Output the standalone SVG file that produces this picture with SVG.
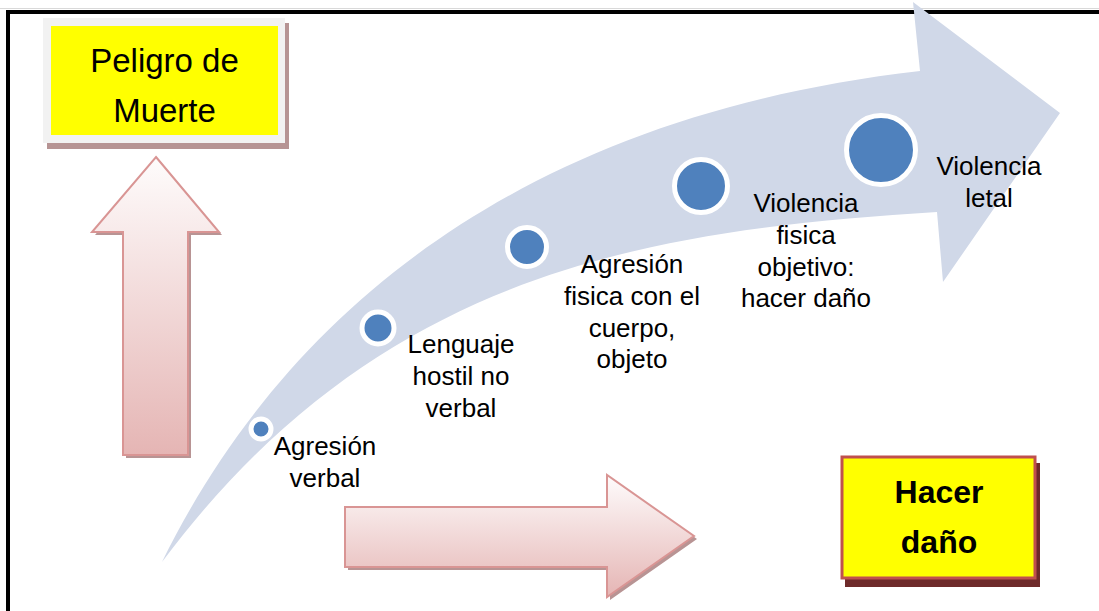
<svg xmlns="http://www.w3.org/2000/svg" width="1099" height="611" viewBox="0 0 1099 611">
  <defs>
    <linearGradient id="pinkV" x1="0" y1="0" x2="0" y2="1">
      <stop offset="0" stop-color="#fefcfc"/>
      <stop offset="1" stop-color="#e5b5b4"/>
    </linearGradient>
    <style>
      .lbl { font-family: "Liberation Sans", Arial, sans-serif; font-size: 26px; fill: #000; text-anchor: middle; }
      .dot { fill: #4f81bd; stroke: #ffffff; }
      .arr { fill: url(#pinkV); stroke: #d99594; stroke-width: 2; stroke-linejoin: miter; }
      .shd { fill: #b89494; }
    </style>
  </defs>
  <rect x="0" y="0" width="1099" height="611" fill="#ffffff"/>
  <g id="frame">
    <rect x="0" y="8" width="1099" height="1" fill="#d9d9d9"/>
    <rect x="6" y="10" width="1093" height="4" fill="#000000"/>
    <rect x="6" y="10" width="4" height="601" fill="#000000"/>
  </g>
  <g id="curved-arrow">
    <path d="M162,562 C280,322 510,118 920,71 L913,2 L1060,113 L943,282 L937,212 C650,230 380,270 162,562 Z" fill="#d0d8e8"/>
  </g>
  <g id="connectors">
    <g id="arrow-up">
      <polygon class="shd" points="159,160 222,235 191,235 191,458 126,458 126,235 95,235"/>
      <polygon class="arr" points="156,157 219,232 188,232 188,455 123,455 123,232 92,232"/>
    </g>
    <g id="arrow-right">
      <polygon class="shd" points="348,510 610,510 610,478 697,539 610,600 610,570 348,570"/>
      <polygon class="arr" points="345,507 607,507 607,475 694,536 607,597 607,567 345,567"/>
    </g>
  </g>
  <g id="node-peligro">
    <rect x="47" y="23" width="242" height="126" fill="#b69494"/>
    <rect x="43" y="18" width="242" height="125" fill="#f2f2f2"/>
    <rect x="51" y="26" width="227" height="109" fill="#ffff00"/>
    <text class="lbl" x="164.5" y="72" style="font-size:33px">Peligro de</text>
    <text class="lbl" x="164.5" y="122" style="font-size:33px">Muerte</text>
  </g>
  <g id="node-hacer">
    <rect x="845" y="463" width="195" height="124" fill="#6e2a2a"/>
    <rect x="842" y="457" width="193" height="121" fill="#ffff00" stroke="#c0504d" stroke-width="3"/>
    <text class="lbl" x="939" y="503" style="font-size:32px;font-weight:bold">Hacer</text>
    <text class="lbl" x="939" y="553" style="font-size:32px;font-weight:bold">daño</text>
  </g>
  <g id="step-1">
    <circle class="dot" cx="261" cy="429" r="10" stroke-width="5"/>
    <text class="lbl" x="325" y="455">Agresión</text>
    <text class="lbl" x="325" y="487">verbal</text>
  </g>
  <g id="step-2">
    <circle class="dot" cx="378" cy="328" r="16" stroke-width="5"/>
    <text class="lbl" x="461" y="353">Lenguaje</text>
    <text class="lbl" x="461" y="385">hostil no</text>
    <text class="lbl" x="461" y="417">verbal</text>
  </g>
  <g id="step-3">
    <circle class="dot" cx="527" cy="247" r="19.5" stroke-width="5"/>
    <text class="lbl" x="632" y="273">Agresión</text>
    <text class="lbl" x="632" y="305">fisica con el</text>
    <text class="lbl" x="632" y="337">cuerpo,</text>
    <text class="lbl" x="632" y="368">objeto</text>
  </g>
  <g id="step-4">
    <circle class="dot" cx="701" cy="186" r="26.5" stroke-width="5"/>
    <text class="lbl" x="806" y="212">Violencia</text>
    <text class="lbl" x="806" y="244">fisica</text>
    <text class="lbl" x="806" y="276">objetivo:</text>
    <text class="lbl" x="806" y="307">hacer daño</text>
  </g>
  <g id="step-5">
    <circle class="dot" cx="881" cy="150" r="34.5" stroke-width="5"/>
    <text class="lbl" x="989" y="175">Violencia</text>
    <text class="lbl" x="989" y="207">letal</text>
  </g>
</svg>
